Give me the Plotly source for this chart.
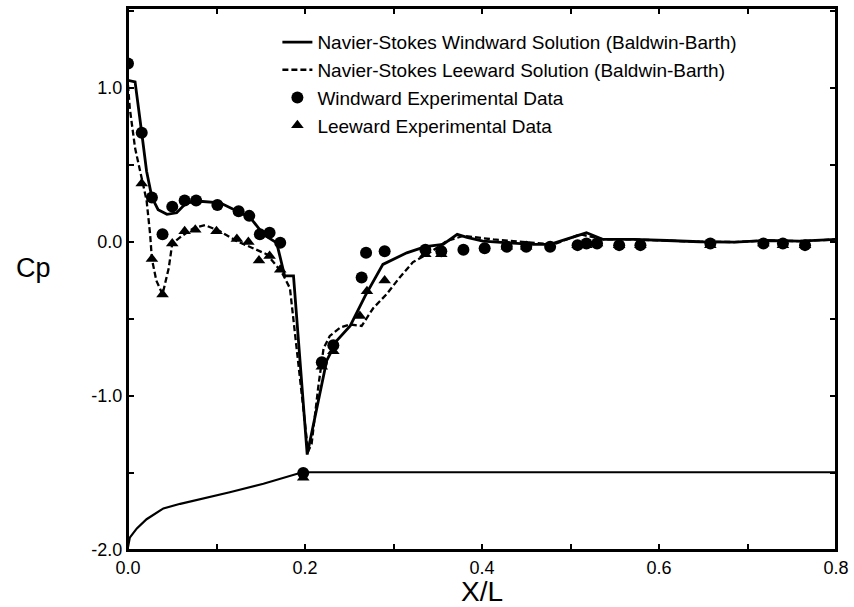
import plotly.graph_objects as go

# Navier-Stokes windward solution (solid)
wl_x = [0.0, 0.008, 0.0155, 0.021, 0.027, 0.034, 0.044, 0.055, 0.066, 0.081, 0.104, 0.123, 0.138, 0.153,
        0.168, 0.177, 0.187, 0.2025, 0.2245, 0.236, 0.251, 0.268, 0.288, 0.315, 0.336, 0.356, 0.372, 0.383,
        0.401, 0.430, 0.458, 0.477, 0.518, 0.537, 0.571, 0.609, 0.646, 0.685, 0.722, 0.759, 0.8]
wl_y = [1.05, 1.04, 0.71, 0.46, 0.29, 0.21, 0.18, 0.19, 0.255, 0.265, 0.255, 0.20, 0.16, 0.05,
        -0.005, -0.22, -0.22, -1.38, -0.77, -0.64, -0.545, -0.35, -0.145, -0.07, -0.03, -0.015, 0.05, 0.03,
        0.006, -0.005, -0.015, -0.015, 0.06, 0.017, 0.017, 0.01, 0.002, 0.0, 0.01, 0.006, 0.017]

# Navier-Stokes leeward solution (dashed)
ll_x = [0.0, 0.002, 0.008, 0.0155, 0.021, 0.025, 0.027, 0.032, 0.039, 0.046, 0.050, 0.061, 0.074, 0.087,
        0.104, 0.123, 0.142, 0.157, 0.170, 0.175, 0.183, 0.2035, 0.2075, 0.215, 0.221, 0.228, 0.240, 0.251,
        0.264, 0.277, 0.292, 0.307, 0.322, 0.338, 0.36, 0.379, 0.413, 0.458, 0.481, 0.511, 0.537, 0.571,
        0.609, 0.646, 0.685, 0.722, 0.759, 0.8]
ll_y = [1.02, 0.87, 0.61, 0.42, 0.27, 0.05, -0.11, -0.25, -0.34, -0.17, -0.01, 0.04, 0.09, 0.11,
        0.07, 0.006, -0.04, -0.08, -0.17, -0.21, -0.30, -1.36, -1.31, -0.94, -0.69, -0.61, -0.555, -0.535,
        -0.545, -0.43, -0.34, -0.23, -0.13, -0.08, 0.006, 0.04, 0.017, -0.005, -0.015, 0.05, 0.017, 0.017,
        0.01, 0.002, 0.0, 0.01, 0.006, 0.017]

# Windward experimental data (circles)
wm_x = [0.0, 0.0155, 0.027, 0.039, 0.050, 0.064, 0.077, 0.101, 0.125, 0.137, 0.149, 0.160, 0.172, 0.198,
        0.219, 0.232, 0.264, 0.269, 0.290, 0.336, 0.354, 0.379, 0.403, 0.428, 0.450, 0.477, 0.508, 0.518,
        0.530, 0.555, 0.579, 0.658, 0.718, 0.740, 0.765]
wm_y = [1.16, 0.71, 0.29, 0.05, 0.23, 0.27, 0.27, 0.24, 0.20, 0.17, 0.05, 0.06, -0.005, -1.50,
        -0.78, -0.67, -0.23, -0.07, -0.06, -0.05, -0.06, -0.05, -0.04, -0.03, -0.03, -0.03, -0.02, -0.01,
        -0.01, -0.02, -0.02, -0.01, -0.01, -0.01, -0.02]

# Leeward experimental data (triangles)
lm_x = [0.0155, 0.027, 0.039, 0.050, 0.064, 0.076, 0.100, 0.123, 0.136, 0.148, 0.160, 0.172, 0.198,
        0.219, 0.232, 0.262, 0.270, 0.290, 0.336, 0.354, 0.428, 0.450, 0.508, 0.518, 0.530, 0.555, 0.579,
        0.658, 0.718, 0.740, 0.765]
lm_y = [0.38, -0.11, -0.34, -0.01, 0.07, 0.08, 0.07, 0.02, 0.0, -0.12, -0.09, -0.18, -1.53,
        -0.81, -0.71, -0.48, -0.32, -0.25, -0.08, -0.08, -0.03, -0.03, -0.02, -0.02, -0.01, -0.02, -0.02,
        -0.02, -0.01, -0.02, -0.02]

# Body profile curve
pr_x = [0.0, 0.002, 0.010, 0.021, 0.040, 0.059, 0.115, 0.153, 0.197, 0.8]
pr_y = [-1.98, -1.92, -1.86, -1.80, -1.73, -1.70, -1.625, -1.57, -1.495, -1.495]

x_ticks = [0.0, 0.1, 0.2, 0.3, 0.4, 0.5, 0.6, 0.7, 0.8]
x_labels = ["0.0", "", "0.2", "", "0.4", "", "0.6", "", "0.8"]
y_ticks = [-2.0, -1.5, -1.0, -0.5, 0.0, 0.5, 1.0, 1.5]
y_labels = ["-2.0", "", "-1.0", "", "0.0", "", "1.0", ""]

FONT = "Liberation Sans, Arial, Helvetica, sans-serif"

fig = go.Figure()
fig.add_trace(go.Scatter(x=pr_x, y=pr_y, mode="lines", line=dict(color="black", width=2.2),
                         showlegend=False, hoverinfo="skip"))
fig.add_trace(go.Scatter(x=wl_x, y=wl_y, mode="lines", line=dict(color="black", width=2.8),
                         name="Navier-Stokes Windward Solution (Baldwin-Barth)"))
fig.add_trace(go.Scatter(x=ll_x, y=ll_y, mode="lines", line=dict(color="black", width=2.3, dash="6px,3px"),
                         name="Navier-Stokes Leeward Solution (Baldwin-Barth)"))
fig.add_trace(go.Scatter(x=wm_x, y=wm_y, mode="markers",
                         marker=dict(symbol="circle", size=12, color="black"),
                         name="Windward Experimental Data"))
fig.add_trace(go.Scatter(x=lm_x, y=lm_y, mode="markers",
                         marker=dict(symbol="triangle-up", size=11, color="black"),
                         name="Leeward Experimental Data"))

axis_common = dict(showgrid=False, zeroline=False, showline=True, linecolor="black", linewidth=2,
                   mirror="ticks", ticks="inside", ticklen=6, tickwidth=1.5, tickcolor="black",
                   automargin=False,
                   tickfont=dict(family=FONT, size=18, color="black"))

fig.update_xaxes(range=[0, 0.8], tickmode="array", tickvals=x_ticks, ticktext=x_labels,
                 title=dict(text="X/L", font=dict(family=FONT, size=28, color="black"), standoff=0),
                 **axis_common)
fig.update_yaxes(range=[-2.0, 1.52], tickmode="array", tickvals=y_ticks, ticktext=y_labels,
                 **axis_common)

# plot frame
fig.add_shape(type="rect", xref="paper", yref="paper", x0=0, x1=1, y0=0, y1=1,
              line=dict(color="black", width=2), fillcolor="rgba(0,0,0,0)", layer="above")

fig.add_annotation(text="Cp", xref="paper", yref="y", x=-0.134, y=-0.17, showarrow=False,
                   xanchor="center", yanchor="middle", font=dict(family=FONT, size=27, color="black"))

fig.update_layout(
    width=854, height=607,
    margin=dict(l=128, r=18, t=8, b=57),
    paper_bgcolor="white", plot_bgcolor="white",
    font=dict(family=FONT, color="black"),
    legend=dict(x=0.211, y=0.972, xanchor="left", yanchor="top", bgcolor="rgba(0,0,0,0)",
                font=dict(family=FONT, size=19, color="black"), tracegroupgap=0,
                itemwidth=30),
)

fig.write_html("out.html", config={"displayModeBar": False},
               post_script="document.body.style.margin='0';")
